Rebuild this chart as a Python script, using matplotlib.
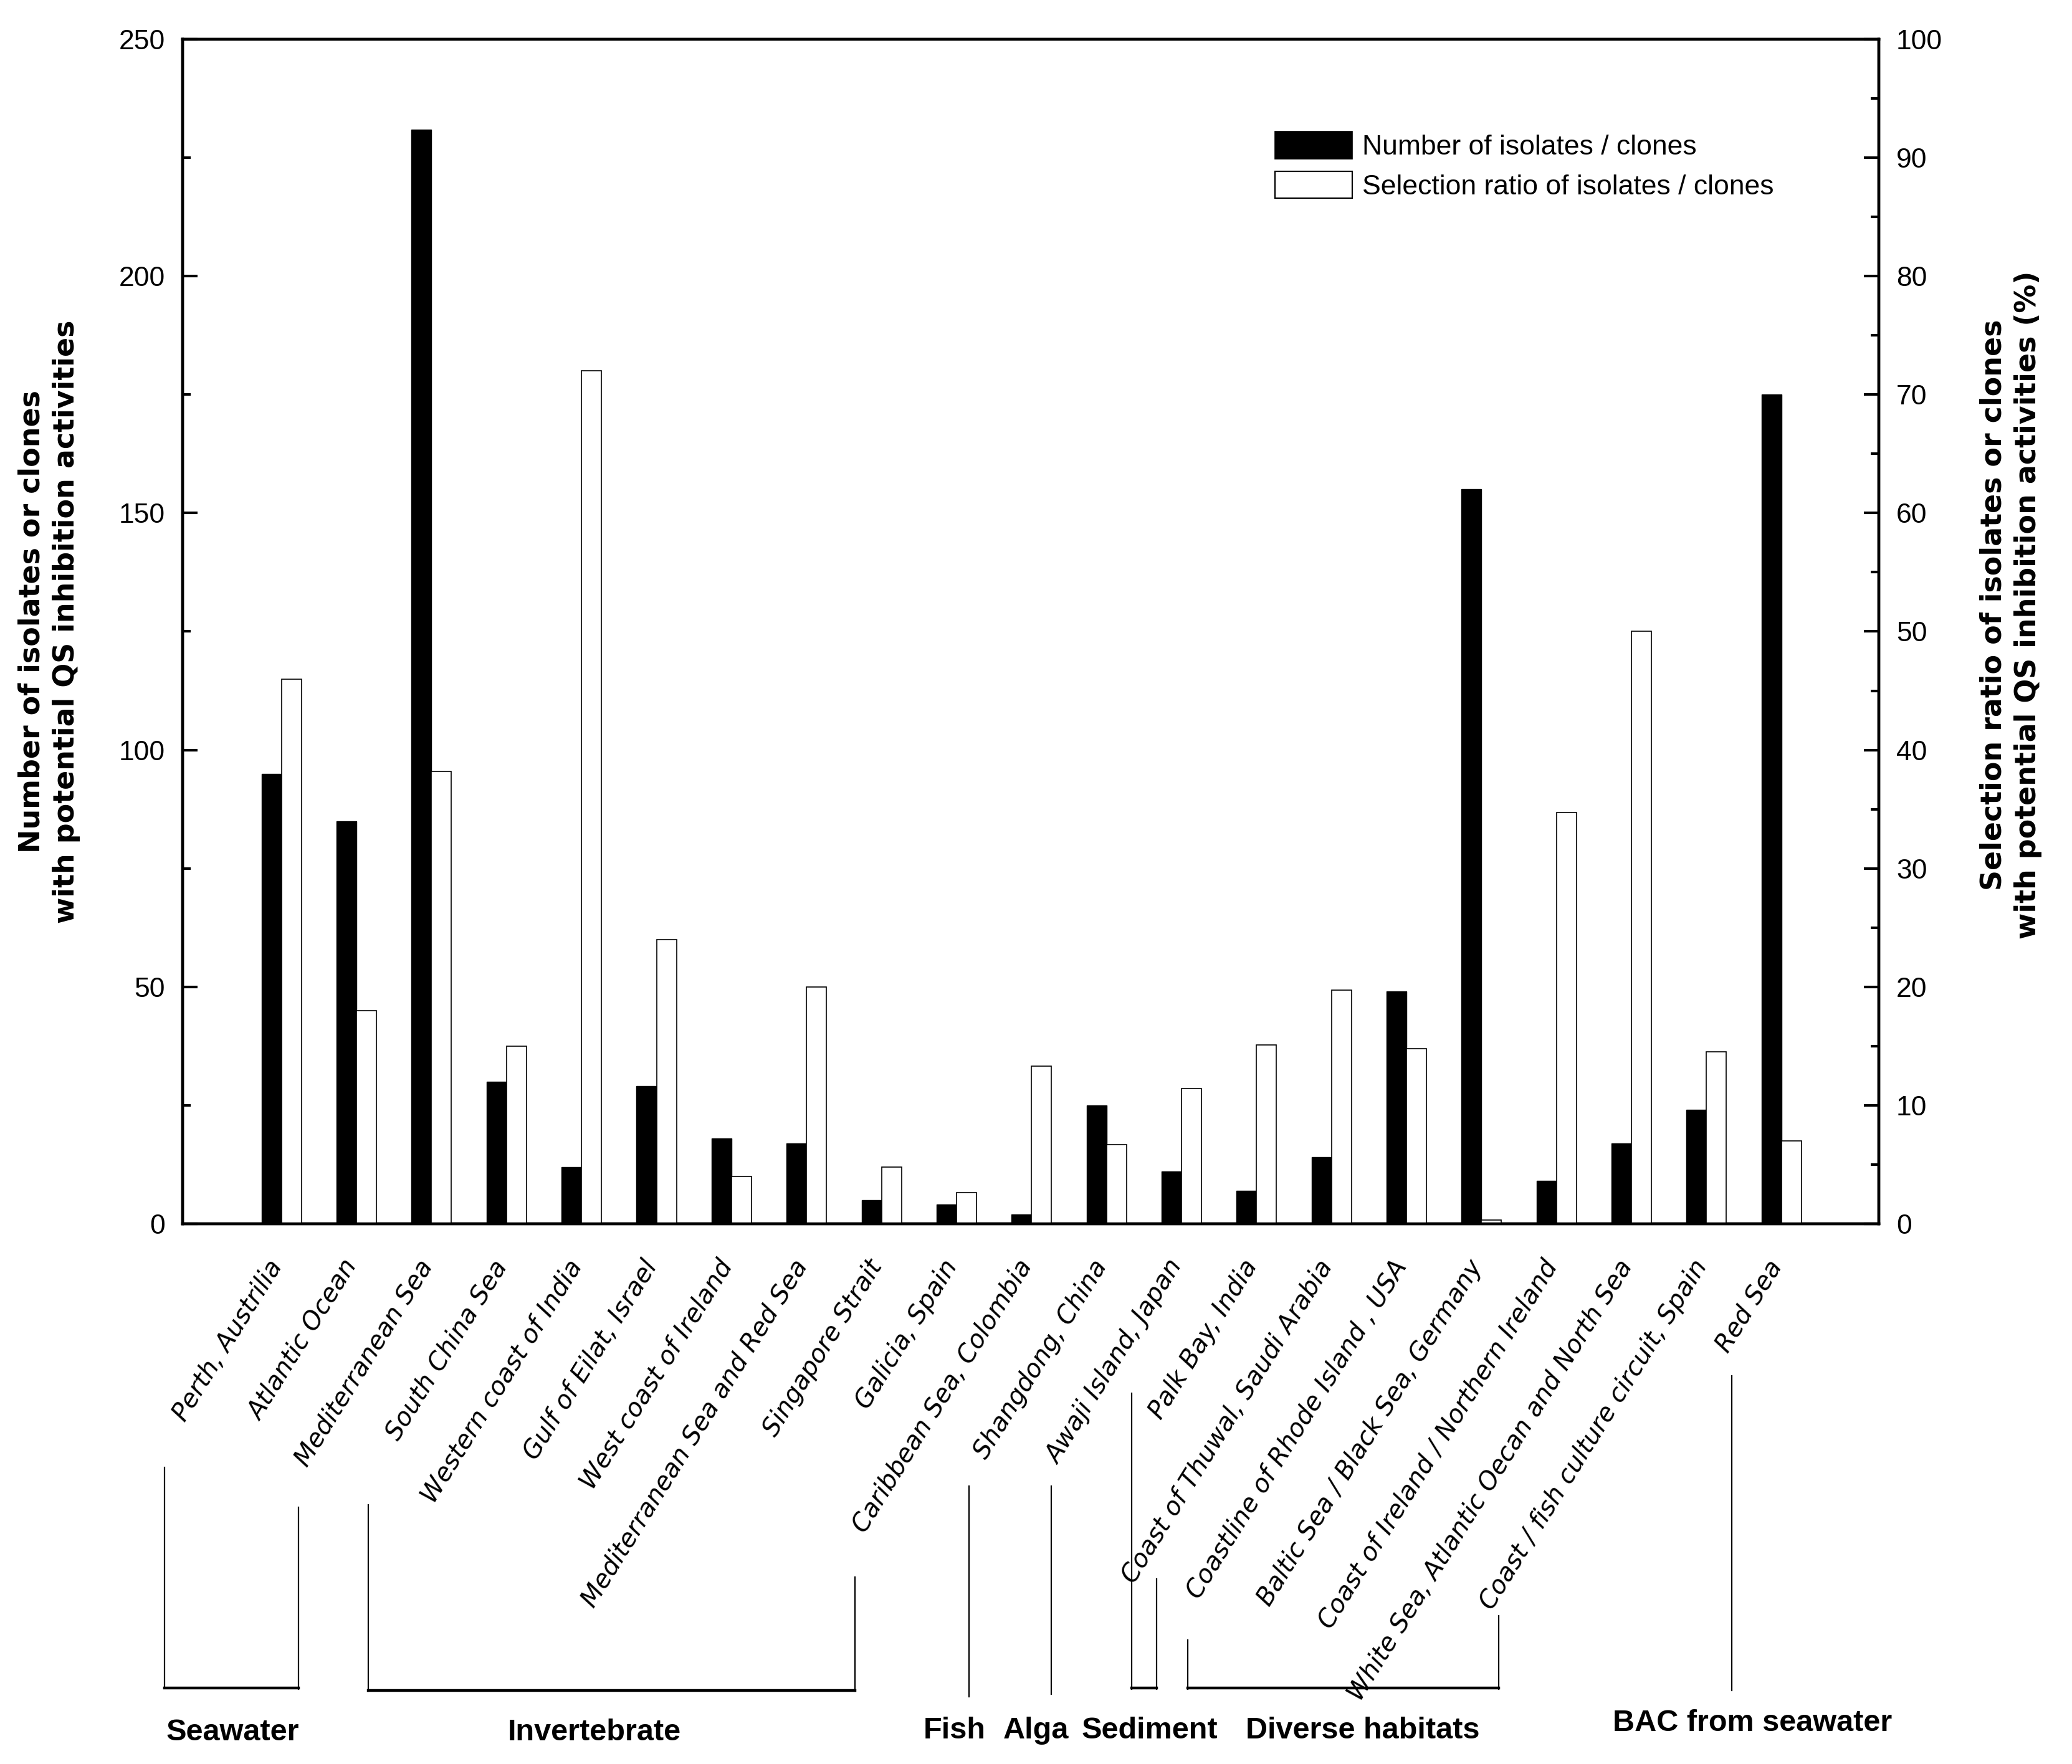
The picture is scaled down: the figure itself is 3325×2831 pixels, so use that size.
import matplotlib
matplotlib.use("Agg")
import matplotlib.pyplot as plt
import matplotlib.transforms as mtransforms
from matplotlib.patches import Patch
from matplotlib.ticker import MultipleLocator

# sampling sites (x categories)
sites = ["Perth, Austrilia", "Atlantic Ocean", "Mediterranean Sea", "South China Sea",
         "Western coast of India", "Gulf of Eilat, Israel", "West coast of Ireland",
         "Mediterranean Sea and Red Sea", "Singapore Strait", "Galicia, Spain",
         "Caribbean Sea, Colombia", "Shangdong, China", "Awaji Island, Japan",
         "Palk Bay, India", "Coast of Thuwal, Saudi Arabia", "Coastline of Rhode Island , USA",
         "Baltic Sea / Black Sea, Germany", "Coast of Ireland / Northern Ireland",
         "White Sea, Atlantic Oecan and North Sea", "Coast / fish culture circuit, Spain",
         "Red Sea"]

# number of isolates / clones (left axis)
n_isolates = [95, 85, 231, 30, 12, 29, 18, 17, 5, 4, 2, 25, 11, 7, 14, 49, 155, 9, 17, 24, 175]

# selection ratio in % (right axis)
sel_ratio = [46, 18, 38.2, 15, 72, 24, 4, 20, 4.8, 2.6, 13.3, 6.7, 11.4, 15.1, 19.7, 14.8,
             0.3, 34.7, 50, 14.5, 7]

# habitat groups shown under the chart
group_names = ["Seawater", "Invertebrate", "Fish", "Alga", "Sediment",
               "Diverse habitats", "BAC from seawater"]

plt.rcParams['font.family'] = ['Liberation Sans', 'DejaVu Sans']

fig = plt.figure(figsize=(16.625, 14.155), dpi=200)
ax = fig.add_axes([0.0881, 0.3063, 0.8187, 0.6714])
ax2 = ax.twinx()

x = list(range(len(sites)))
w = 0.266
ax.bar(x, n_isolates, width=-w, align='edge', color='black', edgecolor='black', linewidth=0.5)
ax2.bar(x, sel_ratio, width=w, align='edge', color='white', edgecolor='black', linewidth=0.6)

for a in (ax, ax2):
    a.set_xlim(-1.32, 21.3)
    for s in a.spines.values():
        s.set_linewidth(1.6)

ax.set_ylim(0, 250)
ax2.set_ylim(0, 100)
ax.yaxis.set_major_locator(MultipleLocator(50))
ax.yaxis.set_minor_locator(MultipleLocator(25))
ax2.yaxis.set_major_locator(MultipleLocator(10))
ax2.yaxis.set_minor_locator(MultipleLocator(5))
ax.tick_params(axis='y', which='major', direction='in', length=8.7, width=1.5, labelsize=16, pad=10)
ax.tick_params(axis='y', which='minor', direction='in', length=4.6, width=1.5)
ax2.tick_params(axis='y', which='major', direction='in', length=8.7, width=1.5, labelsize=16, pad=10)
ax2.tick_params(axis='y', which='minor', direction='in', length=4.6, width=1.5)
ax.set_xticks([])
ax2.set_xticks([])

# rotated site labels
for i, name in enumerate(sites):
    ax.text(i - 0.2, -0.027, name, transform=ax.get_xaxis_transform(), rotation=58,
            rotation_mode='anchor', ha='right', va='top', fontsize=14.5,
            family='DejaVu Sans', style='italic')

# axis titles
fig.text(0.0236, 0.6475, "Number of isolates or clones\nwith potential QS inhibition activities",
         rotation=90, ha='center', va='center', fontsize=16.5, fontweight='bold',
         family='DejaVu Sans', linespacing=1.3)
fig.text(0.9705, 0.657, "Selection ratio of isolates or clones\nwith potential QS inhibition activities (%)",
         rotation=90, ha='center', va='center', fontsize=16.5, fontweight='bold',
         family='DejaVu Sans', linespacing=1.3)

# legend
handles = [Patch(facecolor='black', edgecolor='black', linewidth=0.6),
           Patch(facecolor='white', edgecolor='black', linewidth=0.8)]
ax2.legend(handles, ["Number of isolates / clones", "Selection ratio of isolates / clones"],
           loc='upper left', bbox_to_anchor=(0.644, 0.922), frameon=False, fontsize=16,
           borderpad=0, borderaxespad=0, handlelength=2.8, handleheight=1.12,
           labelspacing=0.4, handletextpad=0.35)

# group brackets below the labels (x in data units, y in figure fraction)
trans = mtransforms.blended_transform_factory(ax.transData, fig.transFigure)

def vline(xp, y0, y1):
    ax.plot([xp, xp], [y0, y1], color='black', lw=0.8, transform=trans, clip_on=False)

def hline(x0, x1, yp):
    ax.plot([x0, x1], [yp, yp], color='black', lw=1.6, transform=trans, clip_on=False)

# Seawater
vline(-1.56, 0.1681, 0.0431); vline(0.23, 0.1457, 0.0425); hline(-1.56, 0.23, 0.0431)
# Invertebrate
vline(1.16, 0.1471, 0.0412); vline(7.65, 0.1060, 0.0412); hline(1.16, 7.65, 0.0417)
# Fish, Alga
vline(9.17, 0.1574, 0.0380)
vline(10.26, 0.1574, 0.0394)
# Sediment
vline(11.34, 0.2100, 0.0425); vline(11.67, 0.1048, 0.0425); hline(11.34, 11.67, 0.0431)
# Diverse habitats
vline(12.08, 0.0702, 0.0425); vline(16.23, 0.0842, 0.0425); hline(12.08, 16.23, 0.0431)
# BAC from seawater
vline(19.34, 0.2201, 0.0417)

group_x = [-0.65, 4.17, 8.97, 10.06, 11.58, 14.42, 19.61]
group_y = [0.018, 0.018, 0.019, 0.019, 0.019, 0.019, 0.0233]
for gx, gy, gname in zip(group_x, group_y, group_names):
    ax.text(gx, gy, gname, transform=trans, ha='center', va='center',
            fontsize=17.5, fontweight='bold')

ax.set_xlim(-1.32, 21.3)
ax2.set_xlim(-1.32, 21.3)

fig.savefig("out.png", dpi=200)
